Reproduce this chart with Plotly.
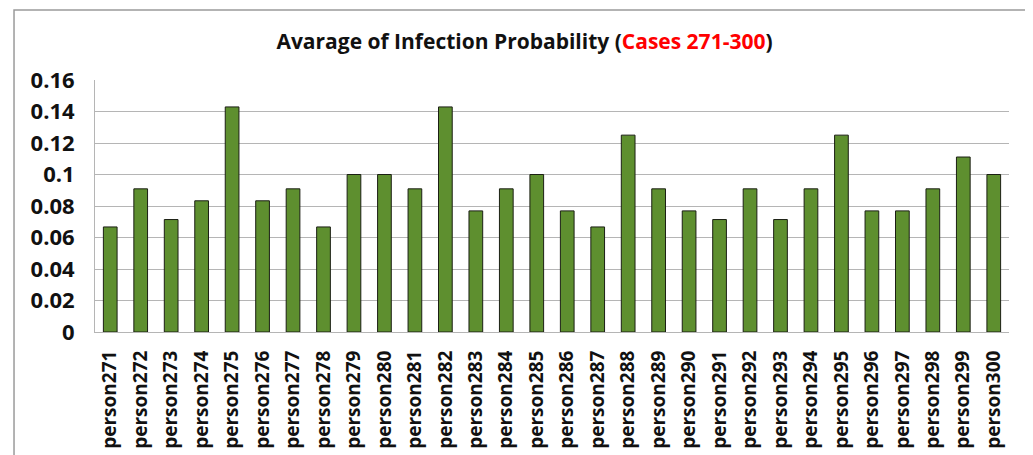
import plotly.graph_objects as go

persons = [f"person{i}" for i in range(271, 301)]
probabilities = [
    0.0667, 0.0909, 0.0714, 0.0833, 0.1429, 0.0833, 0.0909, 0.0667, 0.1, 0.1,
    0.0909, 0.1429, 0.0769, 0.0909, 0.1, 0.0769, 0.0667, 0.125, 0.0909, 0.0769,
    0.0714, 0.0909, 0.0714, 0.0909, 0.125, 0.0769, 0.0769, 0.0909, 0.1111, 0.1,
]
y_ticks = [0, 0.02, 0.04, 0.06, 0.08, 0.1, 0.12, 0.14, 0.16]
y_tick_labels = ["0", "0.02", "0.04", "0.06", "0.08", "0.1", "0.12", "0.14", "0.16"]

fig = go.Figure(go.Bar(
    x=persons, y=probabilities,
    marker=dict(color="#5e8f2f", line=dict(color="#1b1f14", width=1)),
))

fig.update_layout(
    width=1033, height=455,
    margin=dict(l=87, r=32, t=72, b=131, autoexpand=False),
    paper_bgcolor="white", plot_bgcolor="white",
    bargap=0.55,
    showlegend=False,
    title=dict(
        text="Avarage of Infection Probability (<span style='color:#ff0000'>Cases 271-300</span>)",
        x=0.5, xanchor="center", y=0.925, yanchor="middle",
        font=dict(family="Open Sans", size=21, color="#111111", weight="bold"),
    ),
    font=dict(family="Open Sans", color="#111111"),
    shapes=[dict(type="rect", xref="paper", yref="paper",
                 x0=-0.0886, x1=1.021, y0=-0.70, y1=1.278,
                 line=dict(color="#9a9a9a", width=1.5), fillcolor="rgba(0,0,0,0)",
                 layer="below")],
)

fig.update_yaxes(
    range=[0, 0.16], tickvals=y_ticks, ticktext=y_tick_labels,
    showgrid=True, gridcolor="#b5b5b5", gridwidth=1,
    showline=True, linecolor="#b5b5b5", linewidth=1,
    ticks="", ticklabelstandoff=15, automargin=False,
    tickfont=dict(family="Open Sans", size=22, color="#111111", weight="bold"),
    zeroline=False,
)
fig.update_xaxes(
    showline=True, linecolor="#b5b5b5", linewidth=1, mirror=False,
    ticks="", tickangle=-90, ticklabelstandoff=10, automargin=False,
    tickfont=dict(family="Open Sans", size=19, color="#111111", weight="bold"),
    showgrid=False,
)

fig.write_html("out.html")
